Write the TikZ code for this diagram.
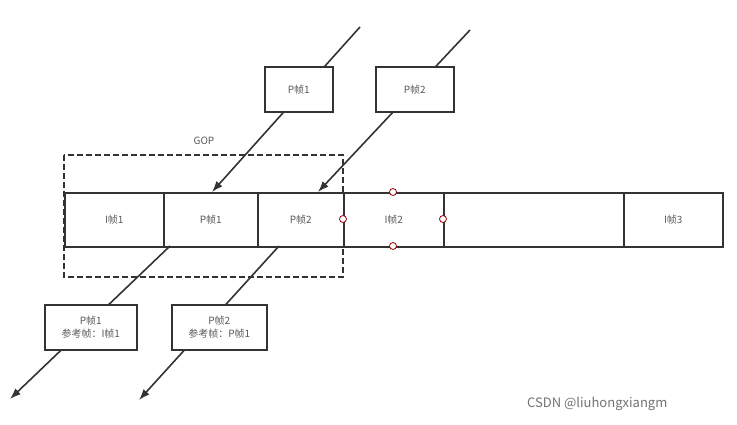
\documentclass[tikz,border=0pt]{standalone}
\usepackage{fontspec}
\setmainfont{Noto Sans CJK SC}
\begin{document}
\begin{tikzpicture}[x=1pt,y=-1pt,
  box/.style={draw=black!80,line width=1.5pt,fill=white,inner sep=0pt,font=\fontsize{10}{13}\selectfont,text=black!65,align=center},
  arr/.style={draw=black!80,line width=1.6pt,-{Latex[length=11pt,width=8pt]}},
  dot/.style={circle,draw=red!60!black,fill=white,line width=0.8pt,minimum size=7pt,inner sep=0pt}]
\usetikzlibrary{arrows.meta}
\useasboundingbox (0,0) rectangle (737,424);
% dashed GOP
\draw[line width=1.5pt,draw=black!80,dash pattern=on 6pt off 3pt] (64,155) rectangle (343,277);
\node[font=\fontsize{10}{12}\selectfont,text=black!65] (gop) at (204,141) {GOP};
% strip cells
\foreach \a/\b/\t/\n in {64/163/I帧1/c1,163/257/P帧1/c2,257/343/P帧2/c3,343/443/I帧2/c4,443/623//c5,623/722/I帧3/c6}{
  \node[box,minimum width={(\b-\a)*1pt},minimum height=54pt,anchor=north west] (\n) at (\a,192) {\t};
}
% arrows from above
\coordinate (s1) at (360,27);
\coordinate (s2) at (470,30);
\coordinate (t1) at (212,192);
\coordinate (t2) at (318,192);
\draw[arr] (s1) -- (t1);
\draw[arr] (s2) -- (t2);
\node[box,minimum width=68pt,minimum height=45pt,anchor=north west] (p1) at (264,66) {P帧1};
\node[box,minimum width=78pt,minimum height=45pt,anchor=north west] (p2) at (375,66) {P帧2};
% arrows downward
\coordinate (b1) at (170,246);
\coordinate (b2) at (279,246);
\coordinate (e1) at (10,399);
\coordinate (e2) at (139,400);
\draw[arr] (b1) -- (e1);
\draw[arr] (b2) -- (e2);
\node[box,minimum width=92pt,minimum height=45pt,anchor=north west] (q1) at (44,304) {P帧1\\参考帧：I帧1};
\node[box,minimum width=95pt,minimum height=45pt,anchor=north west] (q2) at (171,304) {P帧2\\参考帧：P帧1};
% red handles
\node[dot] (h1) at (393,192) {};
\node[dot] (h2) at (393,246) {};
\node[dot] (h3) at (343,219) {};
\node[dot] (h4) at (443,219) {};
\node[font=\fontsize{13}{15}\selectfont,text=black!55,anchor=west,inner sep=0pt] (wm) at (527,404) {CSDN @liuhongxiangm};
\end{tikzpicture}
\end{document}
